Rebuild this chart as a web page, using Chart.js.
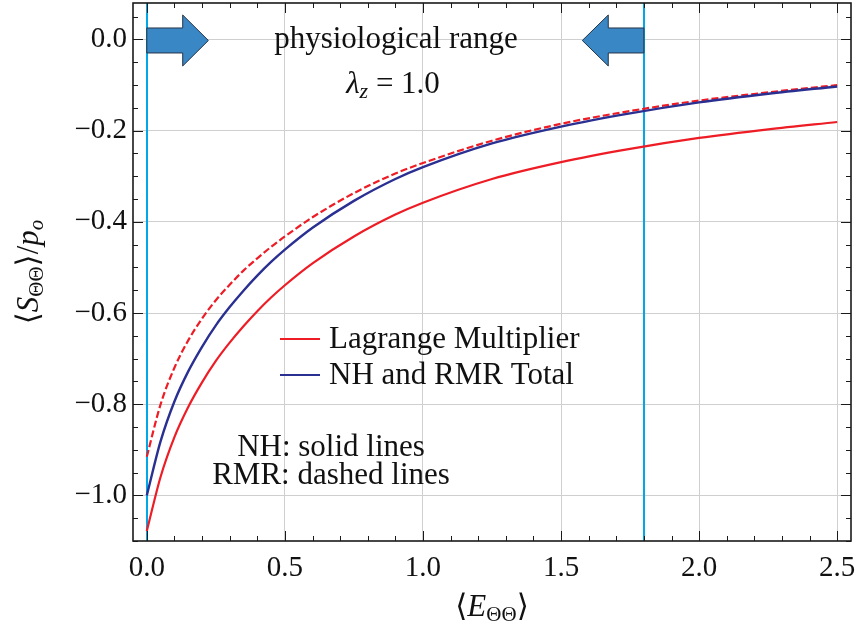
<!DOCTYPE html>
<html>
<head>
<meta charset="utf-8">
<script src="https://cdn.jsdelivr.net/npm/chart.js@4.4.1/dist/chart.umd.min.js"></script>
<style>
  html, body { margin: 0; padding: 0; background: #ffffff; }
  canvas { display: block; }
</style>
</head>
<body>
<canvas id="c" width="859" height="634"></canvas>
<script>
// ---------------- data ----------------
const strain = [0, 0.05, 0.1, 0.15, 0.2, 0.25, 0.3, 0.35, 0.4, 0.45, 0.5, 0.6, 0.75, 0.9, 1.0, 1.25, 1.5, 1.75, 2.0, 2.25, 2.5];
const nhRmrTotal = [-1.000, -0.881, -0.794, -0.728, -0.674, -0.627, -0.587, -0.551, -0.518, -0.488, -0.461, -0.413, -0.354, -0.306, -0.280, -0.228, -0.191, -0.162, -0.138, -0.119, -0.103];
const lagrangeNH = [-1.078, -0.959, -0.872, -0.806, -0.752, -0.705, -0.665, -0.629, -0.596, -0.566, -0.539, -0.491, -0.432, -0.384, -0.358, -0.306, -0.269, -0.240, -0.216, -0.197, -0.181];
const lagrangeRMR = [-0.915, -0.800, -0.720, -0.660, -0.612, -0.572, -0.538, -0.507, -0.480, -0.455, -0.432, -0.390, -0.337, -0.294, -0.271, -0.222, -0.185, -0.157, -0.134, -0.116, -0.100];

const xTicks = [0.0, 0.5, 1.0, 1.5, 2.0, 2.5];
const yTicks = [-1.0, -0.8, -0.6, -0.4, -0.2, 0.0];
const rangeBounds = [0.0, 1.8];          // physiological range markers
const arrowRight = [0.0, 0.130, 0.223];  // body start, head base, tip
const arrowLeft = [1.8, 1.671, 1.577];
const legendLabels = ['Lagrange Multiplier', 'NH and RMR Total'];
const noteLines = ['NH: solid lines', 'RMR: dashed lines'];
const rangeLabel = 'physiological range';

// ---------------- style ----------------
const SERIF = '"Liberation Serif", "DejaVu Serif", serif';
const RED = '#ee1c25';
const BLUE = '#2a2f92';
const CYAN = '#00a8e8';
const ARROW = '#3a87c6';
const INK = '#1a1a1a';

const pts = (ys) => strain.map((x, i) => ({ x: x, y: ys[i] }));
const fmt = (v) => (v < -1e-9 ? '\u2212' : '') + Math.abs(v).toFixed(1);

function drawRich(ctx, parts, x, y, align) {
  let total = 0;
  const ws = parts.map(p => { ctx.font = p.f; const w = ctx.measureText(p.t).width; total += w; return w; });
  let cx = align === 'center' ? x - total / 2 : (align === 'right' ? x - total : x);
  ctx.textAlign = 'left';
  ctx.textBaseline = 'alphabetic';
  parts.forEach((p, i) => { ctx.font = p.f; ctx.fillText(p.t, cx, y + (p.dy || 0)); cx += ws[i]; });
}

const decor = {
  id: 'decor',
  beforeDatasetsDraw(chart) {
    const { ctx, chartArea: a, scales: { x } } = chart;
    ctx.save();
    ctx.strokeStyle = CYAN;
    ctx.lineWidth = 2;
    rangeBounds.forEach(v => {
      const px = Math.round(x.getPixelForValue(v));
      ctx.beginPath(); ctx.moveTo(px, a.top); ctx.lineTo(px, a.bottom); ctx.stroke();
    });
    ctx.restore();
  },
  afterDraw(chart) {
    const { ctx, chartArea: a, scales: { x, y } } = chart;
    ctx.save();
    // arrows
    const drawArrow = (spec) => {
      const x0 = x.getPixelForValue(spec[0]);
      const xb = x.getPixelForValue(spec[1]);
      const xt = x.getPixelForValue(spec[2]);
      const yc = y.getPixelForValue(0) + 1;
      const bh = 12.5, hh = 25.5;
      ctx.beginPath();
      ctx.moveTo(x0, yc - bh);
      ctx.lineTo(xb, yc - bh);
      ctx.lineTo(xb, yc - hh);
      ctx.lineTo(xt, yc);
      ctx.lineTo(xb, yc + hh);
      ctx.lineTo(xb, yc + bh);
      ctx.lineTo(x0, yc + bh);
      ctx.closePath();
      ctx.fillStyle = ARROW;
      ctx.fill();
      ctx.strokeStyle = '#243446';
      ctx.lineWidth = 1;
      ctx.stroke();
    };
    drawArrow(arrowRight);
    drawArrow(arrowLeft);

    ctx.fillStyle = '#111';
    // range label
    ctx.font = '31px ' + SERIF;
    ctx.textAlign = 'center';
    ctx.textBaseline = 'alphabetic';
    ctx.fillText(rangeLabel, 396, 48);
    // lambda_z = 1.0
    drawRich(ctx, [
      { t: '\u03BB', f: 'italic 31px ' + SERIF },
      { t: 'z', f: 'italic 22px ' + SERIF, dy: 5 },
      { t: ' = 1.0', f: '31px ' + SERIF }
    ], 393, 93, 'center');

    // legend
    const ly = [339, 375];
    const lc = [RED, BLUE];
    ly.forEach((yy, i) => {
      ctx.strokeStyle = lc[i];
      ctx.lineWidth = 2.2;
      ctx.beginPath(); ctx.moveTo(280, yy); ctx.lineTo(320, yy); ctx.stroke();
      ctx.fillStyle = '#111';
      ctx.font = '31px ' + SERIF;
      ctx.textAlign = 'left';
      ctx.fillText(legendLabels[i], 329, yy + 9);
    });

    // notes
    ctx.font = '31px ' + SERIF;
    ctx.textAlign = 'center';
    ctx.fillText(noteLines[0], 331, 456);
    ctx.fillText(noteLines[1], 331, 484);

    // axis titles
    drawRich(ctx, [
      { t: '\u27E8', f: '31px ' + SERIF },
      { t: 'E', f: 'italic 31px ' + SERIF },
      { t: '\u0398\u0398', f: '21px ' + SERIF, dy: 5 },
      { t: '\u27E9', f: '31px ' + SERIF }
    ], (a.left + a.right) / 2, 616, 'center');

    ctx.save();
    ctx.translate(38, (a.top + a.bottom) / 2);
    ctx.rotate(-Math.PI / 2);
    drawRich(ctx, [
      { t: '\u27E8', f: '31px ' + SERIF },
      { t: 'S', f: 'italic 31px ' + SERIF },
      { t: '\u0398\u0398', f: '21px ' + SERIF, dy: 5 },
      { t: '\u27E9/', f: '31px ' + SERIF },
      { t: 'p', f: 'italic 31px ' + SERIF },
      { t: 'o', f: 'italic 21px ' + SERIF, dy: 5 }
    ], 0, 0, 'center');
    ctx.restore();

    // inward ticks on all four sides
    ctx.strokeStyle = INK;
    ctx.lineWidth = 1;
    const tick = (x1, y1, x2, y2) => { ctx.beginPath(); ctx.moveTo(x1, y1); ctx.lineTo(x2, y2); ctx.stroke(); };
    for (let k = 0; k <= 25; k++) {
      const v = k / 10;
      const px = Math.round(x.getPixelForValue(v)) + 0.5;
      const len = (k % 5 === 0) ? 10 : 5;
      tick(px, a.bottom, px, a.bottom - len);
      tick(px, a.top, px, a.top + len);
    }
    for (let k = -22; k <= 1; k++) {
      const v = k * 0.05;
      const py = Math.round(y.getPixelForValue(v)) + 0.5;
      const len = (k % 4 === 0) ? 10 : 5;
      tick(a.left, py, a.left + len, py);
      tick(a.right, py, a.right - len, py);
    }
    // frame
    ctx.lineWidth = 1.6;
    ctx.strokeStyle = INK;
    ctx.strokeRect(a.left, a.top, a.right - a.left, a.bottom - a.top);
    ctx.restore();
  }
};

new Chart(document.getElementById('c'), {
  type: 'line',
  data: {
    datasets: [
      { label: legendLabels[0], data: pts(lagrangeNH), borderColor: RED, borderWidth: 2.2, pointRadius: 0, fill: false, cubicInterpolationMode: 'monotone' },
      { label: legendLabels[1], data: pts(nhRmrTotal), borderColor: BLUE, borderWidth: 2.4, pointRadius: 0, fill: false, cubicInterpolationMode: 'monotone' },
      { label: 'RMR Lagrange', data: pts(lagrangeRMR), borderColor: RED, borderWidth: 2.2, borderDash: [7, 3], pointRadius: 0, fill: false, cubicInterpolationMode: 'monotone' }
    ]
  },
  options: {
    responsive: false,
    devicePixelRatio: 1,
    animation: false,
    layout: { padding: { top: 3, right: 8, left: 0, bottom: 0 } },
    plugins: { legend: { display: false }, tooltip: { enabled: false } },
    scales: {
      x: {
        type: 'linear',
        min: -0.05, max: 2.55,
        afterBuildTicks: (s) => { s.ticks = xTicks.map(v => ({ value: v })); },
        afterFit: (s) => { s.height = 93; s.paddingLeft = 0; s.paddingRight = 0; },
        ticks: { callback: (v) => fmt(v), font: { family: SERIF, size: 29 }, color: '#111', padding: 10, maxRotation: 0, autoSkip: false },
        grid: { color: '#cfcfcf', lineWidth: 1, drawTicks: false },
        border: { display: false }
      },
      y: {
        type: 'linear',
        min: -1.1, max: 0.08,
        afterBuildTicks: (s) => { s.ticks = yTicks.map(v => ({ value: v })); },
        afterFit: (s) => { s.width = 133; s.paddingTop = 0; s.paddingBottom = 0; },
        ticks: { callback: (v) => fmt(v), font: { family: SERIF, size: 29 }, color: '#111', padding: 6, autoSkip: false },
        grid: { color: '#cfcfcf', lineWidth: 1, drawTicks: false },
        border: { display: false }
      }
    }
  },
  plugins: [decor]
});
</script>
</body>
</html>
